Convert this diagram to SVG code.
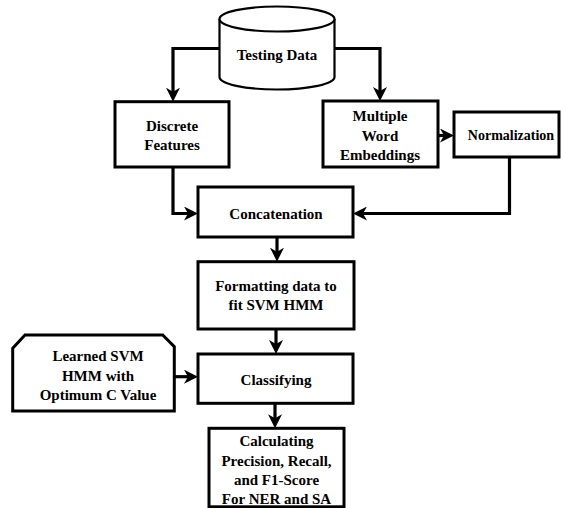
<svg xmlns="http://www.w3.org/2000/svg" width="561" height="508" viewBox="0 0 561 508">
<style>
.box{fill:#fff;stroke:#000;stroke-width:3}
.cyl{fill:#fff;stroke:#000;stroke-width:2.2}
text{font-family:'Liberation Serif','Times New Roman','DejaVu Serif',serif;font-weight:bold;font-size:15px;fill:#000;text-anchor:middle;dominant-baseline:central}
.c{fill:none;stroke:#000;stroke-width:3.2}
</style>
<defs>
<marker id="ah" markerUnits="userSpaceOnUse" viewBox="0 0 14 14" markerWidth="14" markerHeight="14" refX="6" refY="7" orient="auto">
<path d="M0,0 L14,7 L0,14 L4,7 Z" fill="#000"/>
</marker>
</defs>
<rect width="561" height="508" fill="#fff"/>
<g id="connectors">
<path class="c" d="M219.5,48.5 H173 V93.7" marker-end="url(#ah)"/>
<path class="c" d="M334.5,48.5 H380 V93" marker-end="url(#ah)"/>
<path class="c" d="M438,135.5 H446" marker-end="url(#ah)"/>
<path class="c" d="M173,167 V213.5 H190" marker-end="url(#ah)"/>
<path class="c" d="M509.5,157 V213.5 H361" marker-end="url(#ah)"/>
<path class="c" d="M277,237 V253.7" marker-end="url(#ah)"/>
<path class="c" d="M276,329 V346" marker-end="url(#ah)"/>
<path class="c" d="M174.3,376.7 H190" marker-end="url(#ah)"/>
<path class="c" d="M275,403.3 V420.3" marker-end="url(#ah)"/>
</g>
<g id="testing-data">
<path class="cyl" d="M219.5,19 V77 A57.5,12.5 0 0 0 334.5,77 V19 A57.5,12.5 0 0 0 219.5,19 Z"/>
<path class="cyl" d="M219.5,19 A57.5,12.5 0 0 0 334.5,19"/>
<text font-family="Liberation Serif, serif" x="277" y="55">Testing Data</text>
</g>
<g id="discrete-features" font-family="Liberation Serif, serif">
<rect class="box" x="115" y="101.7" width="114" height="65.3"/>
<text x="172" y="126">Discrete</text>
<text x="172" y="144.5">Features</text>
</g>
<g id="multiple-word-embeddings">
<rect class="box" x="323" y="101" width="115" height="66"/>
<text x="380" y="115.5">Multiple</text>
<text x="380" y="135.5">Word</text>
<text x="380" y="155">Embeddings</text>
</g>
<g id="normalization">
<rect class="box" x="454" y="112" width="105" height="45"/>
<text x="511" y="135.5" style="font-size:14px">Normalization</text>
</g>
<g id="concatenation">
<rect class="box" x="198" y="187" width="155" height="50"/>
<text x="276" y="213.5">Concatenation</text>
</g>
<g id="formatting">
<rect class="box" x="198" y="261.7" width="156" height="67.3"/>
<text x="276" y="286">Formatting data to</text>
<text x="276" y="305">fit SVM HMM</text>
</g>
<g id="learned-svm">
<path class="box" d="M12.7,348.3 L25,335 H162.7 L174.3,346.7 V411 H12.7 Z"/>
<text x="98" y="356">Learned SVM</text>
<text x="98" y="375.5">HMM with</text>
<text x="98" y="394.5">Optimum C Value</text>
</g>
<g id="classifying">
<rect class="box" x="198" y="354" width="155" height="49.3"/>
<text x="276" y="380">Classifying</text>
</g>
<g id="calculating">
<rect class="box" x="209" y="428.3" width="135" height="78.5"/>
<text x="276.5" y="441">Calculating</text>
<text x="276.5" y="461">Precision, Recall,</text>
<text x="276.5" y="480">and F1-Score</text>
<text x="276.5" y="499">For NER and SA</text>
</g>
</svg>
